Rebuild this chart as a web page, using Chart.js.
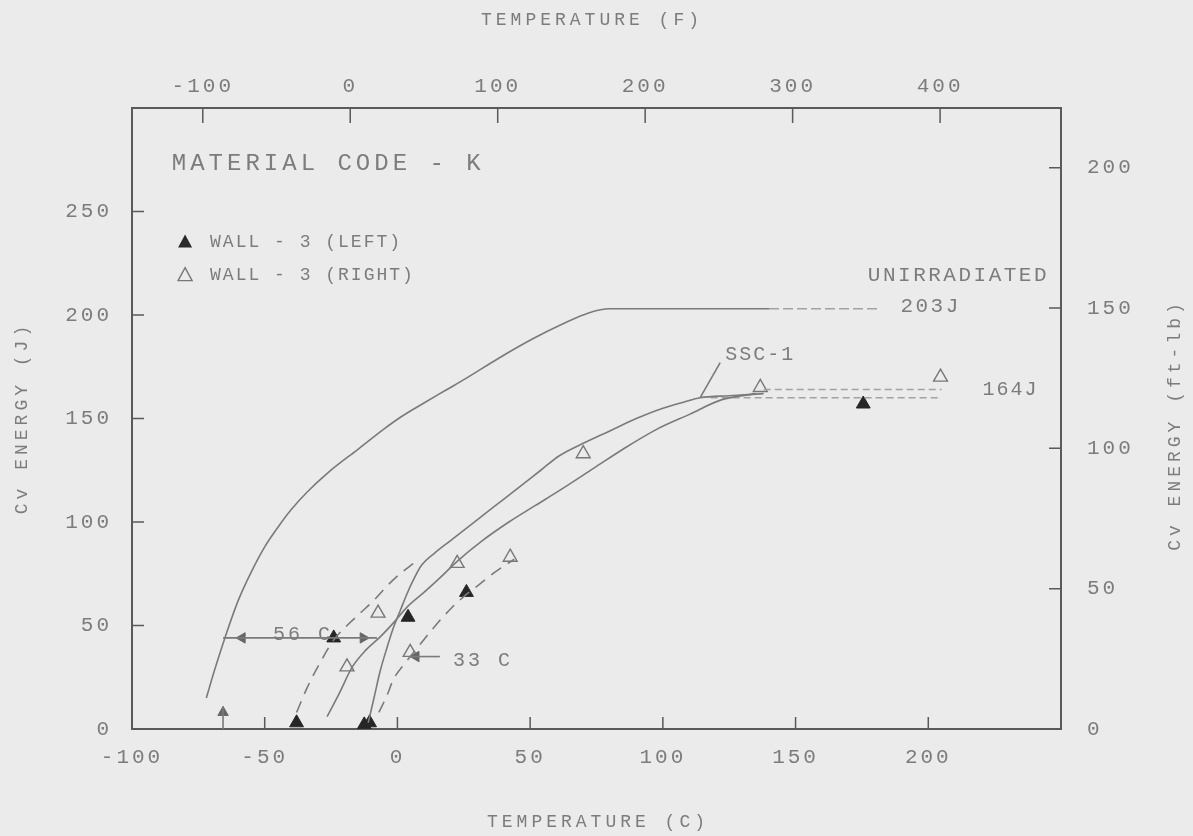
<!DOCTYPE html>
<html>
<head>
<meta charset="utf-8">
<script src="https://cdn.jsdelivr.net/npm/chart.js@4.4.0/dist/chart.umd.min.js"></script>
<style>
  html, body { margin: 0; padding: 0; background: #ebebeb; }
  #wrap { width: 1193px; height: 836px; position: relative; }
</style>
</head>
<body>
<div id="wrap"><canvas id="chart"></canvas></div>
<script>
// tick labels
const tickC = [-100, -50, 0, 50, 100, 150, 200];
const tickF = [-100, 0, 100, 200, 300, 400];
const tickJ = [0, 50, 100, 150, 200, 250];
const tickFtLb = [0, 50, 100, 150, 200];

// unirradiated curve (temperature C, energy J)
const unirrT = [-72, -69, -65, -60, -55, -50, -45, -40, -34, -26, -15, -5, 1, 10, 18, 26, 38, 51, 62, 72, 80, 140];
const unirrE = [15, 28, 44, 62, 76, 88, 97.5, 106, 114.5, 124, 135, 145, 150.5, 157.5, 163.5, 169.5, 179, 188.5, 195.5, 201, 203, 203];
const unirrShelfT = [140, 182];
const unirrShelfE = [203, 203];

// SSC-1 curve (upper middle)
const sscT = [-11, -9, -6.5, -4, -1.5, 1, 3.5, 6, 9, 14, 20, 28, 37, 46, 54, 61, 70, 80, 90, 100, 108, 114, 125, 138];
const sscE = [3, 14, 28, 39, 49, 57, 65, 72, 79, 85, 91, 99, 108, 117, 125, 132, 138, 144, 150, 155, 158, 160, 161, 162];

// lower middle curve
const lowT = [-26.5, -22, -17, -12, -6.5, -1, 3.7, 10, 16, 22.5, 32, 42, 52, 62, 74, 86, 98, 110, 122, 135];
const lowE = [6, 17, 30, 38, 44.5, 52, 59, 66, 73, 81, 91, 100, 108, 116, 126, 136, 145, 152, 159, 162];

// dashed leader curves
const dashAT = [-38, -34, -30, -24, -19, -14, -9, -4, 1, 6];
const dashAE = [8, 20, 30, 43, 50, 56, 62, 69, 75, 80];
const dashDT = [-7, -4, -1.5, 3, 8, 15, 20, 25, 31, 37, 44];
const dashDE = [8, 16, 24, 32, 40, 51, 58, 64, 70, 76, 82];

// upper shelf lines
const shelfT1 = [118, 205];
const shelfE1 = [160, 160];
const shelfT2 = [138, 205];
const shelfE2 = [164, 164];

// measured points
const leftT = [-38, -12.5, -10.5, -24, 4, 26, 175.5];
const leftE = [3, 2, 3, 44, 54, 66, 157];
const rightT = [-19, -7.3, 4.8, 22.5, 42.5, 70, 136.7, 204.6];
const rightE = [30, 56, 37, 80, 83, 133, 165, 170];

// annotation lines
const ssclabT = [121.6, 114];
const ssclabE = [177, 160];
const shift56T = [-65.7, -7.7];
const shift56E = [44, 44];
const shift33T = [4.8, 16];
const shift33E = [35, 35];
const markT = [-65.7, -65.7];
const markE = [0, 11];

const J_PER_FTLB = 1.35582;

const ink = "#7a7a7a";
const faintInk = "#a2a2a2";
const axisInk = "#5a5a5a";
const textInk = "#7c7c7c";
const monoFont = "'Liberation Mono', 'DejaVu Sans Mono', monospace";

function pts(t, e) {
  return t.map((v, i) => ({ x: v, y: e[i] }));
}

function curve(t, e, dash, color) {
  return {
    data: pts(t, e),
    showLine: true,
    borderColor: color || ink,
    borderWidth: 1.6,
    borderDash: dash || [],
    pointRadius: 0,
    cubicInterpolationMode: "monotone",
    fill: false,
  };
}

function arrowHead(x, y, rot) {
  return {
    data: [{ x: x, y: y }],
    showLine: false,
    pointStyle: "triangle",
    rotation: rot,
    pointRadius: 6,
    backgroundColor: "#666",
    borderColor: "#666",
    borderWidth: 1,
  };
}

//draws ticks, texts, legend and axis titles on top of the chart
const paperPlugin = {
  id: "paper",
  beforeDraw(chart) {
    const ctx = chart.ctx;
    ctx.save();
    ctx.fillStyle = "#ebebeb";
    ctx.fillRect(0, 0, chart.width, chart.height);
    ctx.restore();
    ctx.letterSpacing = "3px";
  },
  afterDraw(chart) {
    const ctx = chart.ctx;
    const sx = chart.scales.x, sy = chart.scales.y;
    const sxF = chart.scales.xF, syF = chart.scales.yF;
    const a = chart.chartArea;
    ctx.save();
    ctx.strokeStyle = axisInk;
    ctx.lineWidth = 1.5;
    ctx.beginPath();
    tickC.forEach(v => {
      if (v <= -100) return;
      const px = sx.getPixelForValue(v);
      ctx.moveTo(px, a.bottom);
      ctx.lineTo(px, a.bottom - 12);
    });
    tickF.forEach(v => {
      const px = sxF.getPixelForValue(v);
      ctx.moveTo(px, a.top);
      ctx.lineTo(px, a.top + 15);
    });
    tickJ.forEach(v => {
      if (v === 0) return;
      const py = sy.getPixelForValue(v);
      ctx.moveTo(a.left, py);
      ctx.lineTo(a.left + 12, py);
    });
    tickFtLb.forEach(v => {
      if (v === 0) return;
      const py = syF.getPixelForValue(v);
      ctx.moveTo(a.right, py);
      ctx.lineTo(a.right - 12, py);
    });
    ctx.stroke();

    // texts inside the plot
    ctx.fillStyle = textInk;
    ctx.textBaseline = "middle";
    function label(txt, t, e, size, align, spacing) {
      ctx.font = size + "px " + monoFont;
      ctx.letterSpacing = spacing + "px";
      ctx.textAlign = align;
      ctx.fillText(txt, sx.getPixelForValue(t), sy.getPixelForValue(e));
    }
    label("MATERIAL CODE - K", -85, 273, 24, "left", 4);
    label("WALL - 3 (LEFT)", -70.6, 235, 18, "left", 2);
    label("WALL - 3 (RIGHT)", -70.6, 219, 18, "left", 2);
    label("UNIRRADIATED", 245.5, 219, 21, "right", 2.5);
    label("203J", 189.5, 204, 21, "left", 2.5);
    label("SSC-1", 123.5, 181, 20, "left", 2);
    label("164J", 220.4, 164, 20, "left", 2);
    label("56 C", -46.9, 45.5, 20, "left", 3);
    label("33 C", 20.9, 33, 20, "left", 3);

    // legend symbols
    function tri(px, py, filled) {
      ctx.beginPath();
      ctx.moveTo(px, py - 8);
      ctx.lineTo(px + 7, py + 5);
      ctx.lineTo(px - 7, py + 5);
      ctx.closePath();
      if (filled) {
        ctx.fillStyle = "#2a2a2a";
        ctx.fill();
      } else {
        ctx.strokeStyle = "#777";
        ctx.lineWidth = 1.4;
        ctx.stroke();
      }
    }
    tri(sx.getPixelForValue(-80), sy.getPixelForValue(235), true);
    tri(sx.getPixelForValue(-80), sy.getPixelForValue(219), false);

    // axis titles
    ctx.fillStyle = textInk;
    ctx.font = "18px " + monoFont;
    ctx.letterSpacing = "4px";
    ctx.textAlign = "center";
    ctx.fillText("TEMPERATURE (F)", 592, 20);
    ctx.fillText("TEMPERATURE (C)", 598, 822);
    ctx.save();
    ctx.translate(22, 418);
    ctx.rotate(-Math.PI / 2);
    ctx.fillText("Cv ENERGY (J)", 0, 0);
    ctx.restore();
    ctx.save();
    ctx.translate(1175, 425);
    ctx.rotate(-Math.PI / 2);
    ctx.fillText("Cv ENERGY (ft-lb)", 0, 0);
    ctx.restore();
    ctx.restore();
  },
};

function axisOpts(extra) {
  return Object.assign({
    type: "linear",
    grid: { display: false, drawTicks: false },
    border: { display: true, color: axisInk, width: 2 },
  }, extra);
}

const tickFont = { family: monoFont, size: 21 };

const ctx = document.getElementById("chart").getContext("2d");
const myChart = new Chart(ctx, {
  type: "scatter",
  data: {
    datasets: [
      curve(unirrT, unirrE),
      curve(unirrShelfT, unirrShelfE, [10, 4], faintInk),
      curve(sscT, sscE),
      curve(lowT, lowE),
      curve(dashAT, dashAE, [12, 8]),
      curve(dashDT, dashDE, [12, 8]),
      curve(shelfT1, shelfE1, [7, 4], faintInk),
      curve(shelfT2, shelfE2, [7, 4], faintInk),
      curve(ssclabT, ssclabE),
      curve(shift56T, shift56E),
      curve(shift33T, shift33E),
      curve(markT, markE),
      arrowHead(-58.5, 44, -90),
      arrowHead(-12.9, 44, 90),
      arrowHead(7, 35, -90),
      arrowHead(-65.7, 8, 0),
      {
        data: pts(leftT, leftE),
        showLine: false,
        pointStyle: "triangle",
        pointRadius: 8,
        backgroundColor: "#262626",
        borderColor: "#262626",
        borderWidth: 1,
      },
      {
        data: pts(rightT, rightE),
        showLine: false,
        pointStyle: "triangle",
        pointRadius: 8,
        backgroundColor: "#ebebeb",
        borderColor: "#777",
        borderWidth: 1.4,
      },
    ],
  },
  options: {
    responsive: true,
    maintainAspectRatio: false,
    animation: false,
    layout: { padding: 0 },
    plugins: {
      legend: { display: false },
      tooltip: { enabled: false },
    },
    scales: {
      x: axisOpts({
        position: "bottom",
        min: -100,
        max: 250,
        afterBuildTicks: s => { s.ticks = tickC.map(v => ({ value: v })); },
        afterFit: s => { s.height = 107; },
        ticks: { font: tickFont, color: textInk, padding: 16, autoSkip: false, maxRotation: 0 },
      }),
      xF: axisOpts({
        position: "top",
        min: -148,
        max: 482,
        afterBuildTicks: s => { s.ticks = tickF.map(v => ({ value: v })); },
        afterFit: s => { s.height = 108; },
        ticks: { font: tickFont, color: textInk, padding: 9, autoSkip: false, maxRotation: 0 },
      }),
      y: axisOpts({
        position: "left",
        min: 0,
        max: 300,
        afterBuildTicks: s => { s.ticks = tickJ.map(v => ({ value: v })); },
        afterFit: s => { s.width = 132; },
        ticks: { font: tickFont, color: textInk, padding: 20, autoSkip: false },
      }),
      yF: axisOpts({
        position: "right",
        min: 0,
        max: 300 / J_PER_FTLB,
        afterBuildTicks: s => { s.ticks = tickFtLb.map(v => ({ value: v })); },
        afterFit: s => { s.width = 132; },
        ticks: { font: tickFont, color: textInk, padding: 26, autoSkip: false },
      }),
    },
  },
  plugins: [paperPlugin],
});
</script>
</body>
</html>
